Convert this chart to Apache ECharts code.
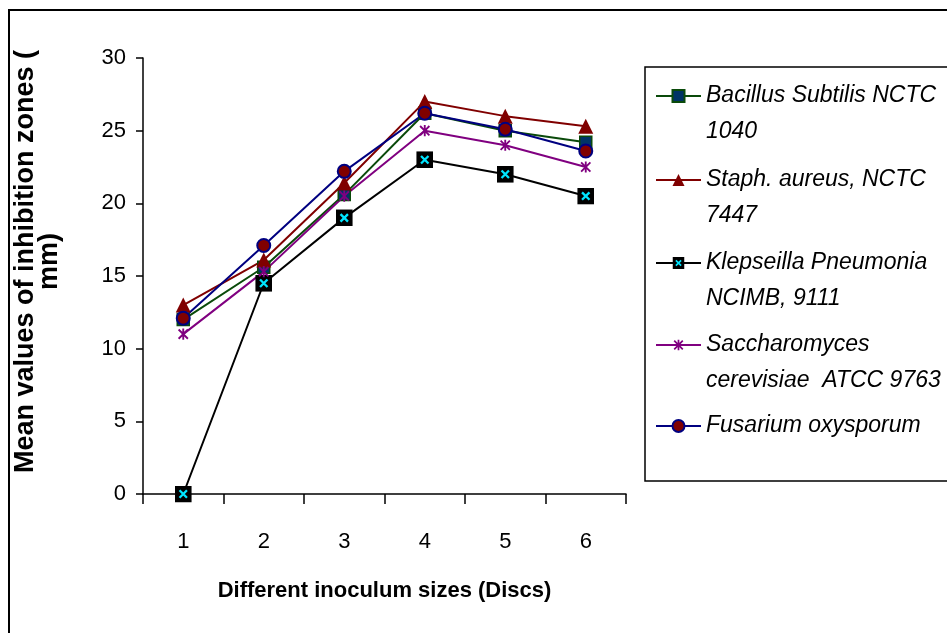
<!DOCTYPE html>
<html>
<head>
	<meta charset="utf-8">
	<title>Inhibition zones</title>
	<style>
		html, body { margin: 0; padding: 0; background: #fff; }
		#chart { width: 947px; height: 633px; }
	</style>
</head>
<body>
<div id="chart"></div>
<script src="https://cdn.jsdelivr.net/npm/echarts@6/dist/echarts.min.js"></script>
<script>
// data
var categories = ['1', '2', '3', '4', '5', '6'];
var seriesNames = ['Bacillus Subtilis NCTC 1040', 'Staph. aureus, NCTC 7447', 'Klepseilla Pneumonia NCIMB, 9111', 'Saccharomyces cerevisiae ATCC 9763', 'Fusarium oxysporum'];
var legendLabels = ['Bacillus Subtilis NCTC\n1040', 'Staph. aureus, NCTC\n7447', 'Klepseilla Pneumonia\nNCIMB, 9111', 'Saccharomyces\ncerevisiae  ATCC 9763', 'Fusarium oxysporum'];
var bacillus = [12, 15.6, 20.6, 26.2, 25, 24.2];
var staph = [13, 16.1, 21.4, 27, 26, 25.3];
var klep = [0, 14.5, 19, 23, 22, 20.5];
var sacch = [11, 15.3, 20.5, 25, 24, 22.5];
var fusarium = [12.1, 17.1, 22.2, 26.2, 25.1, 23.6];
var yTicks = { min: 0, max: 30, step: 5 };

function svgSymbol(svg) {
	return 'image://data:image/svg+xml;utf8,' + encodeURIComponent(svg);
}
var klepSymbol = svgSymbol('<svg xmlns="http://www.w3.org/2000/svg" width="16" height="16" viewBox="0 0 16 16">'
	+ '<rect x="0" y="0" width="16" height="16" fill="#000"/>'
	+ '<path d="M4.5 4.5 L11.5 11.5 M11.5 4.5 L4.5 11.5" stroke="#00e5ff" stroke-width="2.2"/></svg>');
var starSymbol = svgSymbol('<svg xmlns="http://www.w3.org/2000/svg" width="14" height="14" viewBox="0 0 14 14">'
	+ '<path d="M2 2 L12 12 M12 2 L2 12 M7 1 L7 13" stroke="#800080" stroke-width="2"/></svg>');

var font = 'Liberation Sans, Arial, sans-serif';

function makeLine(name, data, color, symbol, size, itemStyle) {
	return {
		name: name,
		type: 'line',
		data: data,
		symbol: symbol,
		symbolSize: size,
		lineStyle: { color: color, width: 2 },
		itemStyle: itemStyle || { color: color },
		emphasis: { disabled: true }
	};
}

var series = [
	makeLine(seriesNames[0], bacillus, '#0a4a0a', 'rect', 12, { color: '#003366', borderColor: '#0a4a0a', borderWidth: 1.5 }),
	makeLine(seriesNames[1], staph, '#800000', 'triangle', 15),
	makeLine(seriesNames[2], klep, '#000000', klepSymbol, 17),
	makeLine(seriesNames[3], sacch, '#800080', starSymbol, 13),
	makeLine(seriesNames[4], fusarium, '#000080', 'circle', 13, { color: '#800000', borderColor: '#000080', borderWidth: 2 })
];

// one legend per entry; a blank first line keeps the marker on the first text line
var legendMid = [96, 180, 263, 345, 426];
var legends = seriesNames.map(function (name, i) {
	var text = ' \n' + legendLabels[i];
	if (legendLabels[i].indexOf('\n') < 0) text += '\n ';
	return {
		data: [name],
		left: 655,
		top: legendMid[i] - 54,
		padding: 0,
		itemWidth: 45,
		itemHeight: 15,
		selectedMode: false,
		formatter: function () { return text; },
		textStyle: {
			fontFamily: font,
			fontStyle: 'italic',
			fontSize: 23,
			color: '#000',
			lineHeight: 36
		}
	};
});

var option = {
	animation: false,
	backgroundColor: '#fff',
	graphic: [
		{ type: 'rect', shape: { x: 9, y: 10, width: 960, height: 660 }, style: { fill: 'none', stroke: '#000', lineWidth: 2 } },
		{ type: 'rect', shape: { x: 645, y: 67, width: 320, height: 414 }, style: { fill: 'none', stroke: '#000', lineWidth: 1.5 } }
	],
	legend: legends,
	grid: { left: 143, right: 321, top: 58, bottom: 139 },
	xAxis: {
		type: 'category',
		data: categories,
		boundaryGap: true,
		name: 'Different inoculum sizes (Discs)',
		nameLocation: 'middle',
		nameGap: 86,
		nameTextStyle: { fontFamily: font, fontWeight: 'bold', fontSize: 22, color: '#000' },
		axisLine: { show: true, lineStyle: { color: '#000', width: 1.5 } },
		axisTick: { show: true, length: 10, lineStyle: { color: '#000', width: 1.5 } },
		axisLabel: { margin: 37, fontFamily: font, fontSize: 22, color: '#000' },
		splitLine: { show: false }
	},
	yAxis: {
		type: 'value',
		min: yTicks.min,
		max: yTicks.max,
		interval: yTicks.step,
		name: 'Mean values of inhibition zones (\nmm)',
		nameLocation: 'middle',
		nameGap: 81,
		nameTextStyle: { fontFamily: font, fontWeight: 'bold', fontSize: 27, color: '#000', lineHeight: 24, padding: [0, 0, 0, 29] },
		axisLine: { show: true, lineStyle: { color: '#000', width: 1.5 } },
		axisTick: { show: true, length: 7, lineStyle: { color: '#000', width: 1.5 } },
		axisLabel: { margin: 17, fontFamily: font, fontSize: 22, color: '#000' },
		splitLine: { show: false }
	},
	series: series
};

var myChart = echarts.init(document.getElementById('chart'));
myChart.setOption(option);
</script>
</body>
</html>
